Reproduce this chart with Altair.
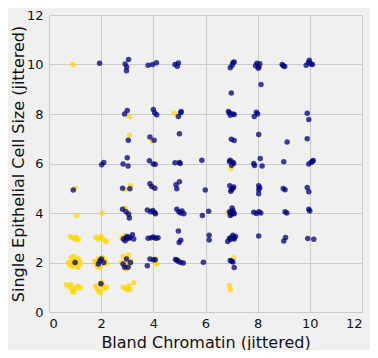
import altair as alt
import pandas as pd

# Benign (gold) points, jittered
benign_x = [0.92, 3.08, 4.81, 3.08, 3.96, 6.98, 1.0, 3.13, 2.91, 4.0,
            1.07, 2.03, 2.92, 3.05, 6.86,
            0.82, 0.92, 1.05, 1.12, 1.0, 1.8, 1.9, 2.0, 2.1, 2.2, 1.95, 2.8, 2.9, 2.98, 4.06,
            0.75, 0.85, 0.9, 1.0, 1.05, 1.15, 1.2, 0.8, 0.95, 1.1, 1.0, 0.9, 1.12, 0.88,
            1.8, 1.9, 2.0, 2.1, 2.2, 1.85, 2.05, 1.95, 2.15, 1.75,
            2.78, 2.85, 2.9, 3.0, 3.1, 3.15, 2.95, 3.05,
            4.1, 4.07, 4.13, 4.95, 7.08,
            0.67, 0.8, 0.9, 1.0, 1.1, 1.2, 0.85, 0.95,
            1.8, 1.9, 2.0, 2.1, 2.2, 1.95, 2.05, 1.85,
            2.85, 2.95, 3.05, 3.1, 3.25, 3.0, 6.92, 6.95]
benign_y = [10.0, 7.91, 8.03, 7.14, 6.91, 5.81, 5.0, 5.1, 4.94, 5.05,
            3.9, 4.0, 4.2, 4.0, 4.0,
            3.05, 3.0, 3.02, 2.92, 2.95, 3.02, 2.95, 3.05, 2.92, 2.85, 3.0, 3.0, 3.08, 2.92, 2.97,
            2.0, 2.2, 1.85, 2.1, 1.9, 2.05, 1.95, 1.92, 2.25, 1.8, 2.0, 2.05, 2.15, 1.9,
            2.0, 2.15, 1.9, 2.05, 1.95, 1.85, 2.2, 1.8, 2.1, 2.05,
            2.0, 2.25, 1.85, 2.1, 1.9, 2.05, 1.75, 2.3,
            1.97, 2.14, 1.94, 2.1, 2.18,
            1.1, 1.0, 0.85, 0.95, 1.05, 0.98, 1.1, 0.8,
            1.05, 0.85, 1.2, 0.95, 1.0, 0.78, 1.1, 0.95,
            1.0, 0.95, 1.05, 0.92, 1.18, 0.9, 1.07, 0.9]

# Malignant (navy) points, jittered
malignant_x = [1.94, 2.92, 3.05, 2.98, 2.97, 3.8, 3.97, 4.12, 4.83, 4.96, 4.92, 6.95, 7.05, 7.1, 7.02,
               7.92, 8.02, 8.08, 7.97, 8.05, 8.94, 9.04, 8.98, 9.86, 9.98, 10.05, 9.95, 10.1,
               6.99, 8.13,
               2.9, 3.0, 4.0, 4.05, 4.13, 4.96, 5.05, 5.07, 6.88, 6.95, 7.05, 7.1, 6.92, 7.87, 7.95, 8.0, 9.9, 9.96,
               3.04, 3.87, 4.03, 5.0, 6.99, 7.1, 8.04, 9.13, 9.9,
               2.02, 2.1, 2.84, 3.03, 3.0, 3.85, 4.0, 4.07, 4.83, 5.0, 5.03, 5.86, 6.95, 7.05, 7.0, 7.08, 6.92,
               7.85, 8.1, 8.17, 7.88, 9.0, 9.96, 10.05, 10.13, 10.1,
               0.93, 2.82, 3.1, 3.87, 3.94, 4.06, 4.87, 4.9, 5.0, 5.99, 6.93, 7.0, 7.08, 6.97, 7.05,
               8.04, 8.04, 8.04, 8.08, 8.98, 9.05, 9.9, 9.96,
               2.82, 2.95, 3.05, 3.08, 3.77, 3.9, 3.98, 4.05, 4.08, 4.9, 4.98, 5.05, 5.17, 5.1, 5.88, 6.12,
               6.92, 7.0, 7.05, 6.95, 7.08, 7.02, 6.98, 7.1, 7.85, 7.95, 8.05, 8.12, 9.05, 9.12, 9.96, 10.0,
               2.85, 2.95, 3.0, 3.05, 3.1, 3.2, 3.25, 2.92, 3.8, 3.92, 4.0, 4.1, 4.18, 4.96, 4.99, 5.05,
               6.14, 6.14, 6.85, 6.92, 7.0, 7.08, 7.15, 6.95, 7.05, 7.1, 8.04, 9.07, 9.0, 9.92, 10.15,
               1.0, 1.89, 1.95, 2.1, 2.01, 2.84, 2.97, 3.12, 3.03, 2.9, 3.77, 3.87, 4.0, 4.07,
               4.85, 4.95, 5.05, 5.15, 4.9, 5.92, 6.95, 7.05, 7.1, 7.0,
               1.99]
malignant_y = [10.05, 10.02, 10.2, 9.9, 9.75, 9.97, 10.0, 10.07, 10.0, 10.06, 9.93, 9.87, 10.07, 10.1, 9.97,
               9.95, 9.85, 10.03, 10.05, 9.9, 10.0, 9.92, 9.95, 9.97, 10.17, 10.02, 10.08, 10.0,
               8.85, 9.19,
               8.0, 8.14, 8.18, 8.05, 7.97, 7.9, 8.05, 8.1, 8.1, 7.95, 8.0, 7.98, 8.05, 7.9, 8.07, 8.0, 8.03, 7.78,
               6.94, 7.07, 6.94, 7.2, 6.98, 6.93, 7.17, 6.87, 7.0,
               5.95, 6.04, 5.98, 5.9, 6.23, 6.11, 5.98, 5.97, 6.03, 6.04, 6.0, 6.13, 6.13, 6.05, 5.93, 6.0, 6.08,
               6.0, 6.2, 5.9, 5.92, 6.07, 5.98, 6.05, 6.12, 6.08,
               4.93, 5.0, 4.98, 5.18, 5.07, 5.0, 5.14, 4.98, 5.26, 4.93, 5.1, 4.95, 5.05, 4.88, 5.0,
               5.1, 4.94, 4.78, 5.02, 4.99, 4.94, 5.03, 4.86,
               4.15, 4.05, 3.95, 3.8, 4.12, 4.05, 4.1, 4.02, 3.97, 4.15, 4.05, 4.0, 3.97, 4.08, 3.9, 4.07,
               4.05, 3.95, 4.1, 3.9, 4.0, 4.2, 4.02, 3.97, 4.03, 3.98, 4.05, 4.0, 4.05, 4.0, 4.15, 4.08,
               2.95, 3.0, 3.05, 2.98, 3.0, 3.12, 2.95, 2.88, 2.98, 3.0, 3.03, 2.98, 3.0, 3.27, 2.81, 2.9,
               3.1, 2.91, 2.85, 2.98, 3.02, 3.0, 3.05, 2.93, 3.1, 2.95, 3.07, 3.01, 2.87, 2.97, 2.94,
               2.0, 1.94, 2.07, 2.0, 2.14, 1.94, 2.14, 2.0, 1.81, 1.81, 1.87, 2.14, 2.11, 2.11,
               2.12, 2.05, 2.0, 1.98, 2.1, 2.01, 2.08, 2.02, 1.8, 2.05,
               1.14]

ticks = [0, 2, 4, 6, 8, 10, 12]
classes = ["benign", "malignant"]
colors = ["#FFD700", "#000080"]

df = pd.concat([
    pd.DataFrame({"x": benign_x, "y": benign_y, "cls": classes[0], "ord": 0}),
    pd.DataFrame({"x": malignant_x, "y": malignant_y, "cls": classes[1], "ord": 1}),
], ignore_index=True)

chart = alt.Chart(df).mark_circle(size=30, opacity=0.75).encode(
    x=alt.X("x:Q", title="Bland Chromatin (jittered)",
            scale=alt.Scale(domain=[0, 12], nice=False),
            axis=alt.Axis(values=ticks, labelPadding=5, titlePadding=4)),
    y=alt.Y("y:Q", title="Single Epithelial Cell Size (jittered)",
            scale=alt.Scale(domain=[0, 12], nice=False),
            axis=alt.Axis(values=ticks, labelPadding=6, titlePadding=0)),
    color=alt.Color("cls:N", scale=alt.Scale(domain=classes, range=colors), legend=None),
    order=alt.Order("ord:Q"),
).properties(
    width=313, height=297,
    autosize=alt.AutoSizeParams(type="none"),
    padding={"left": 41, "top": 7, "right": 8, "bottom": 38},
    background="#f0f0f0",
).configure_view(stroke=None).configure_axis(
    domain=False, ticks=False, grid=True, gridColor="#cbcbcb", gridWidth=1,
    labelFont="DejaVu Sans", titleFont="DejaVu Sans", labelFontSize=13, titleFontSize=16,
    labelColor="#111", titleColor="#111", titleFontWeight="normal",
)

chart.save("out.html", embed_options={"renderer": "svg", "actions": False})
